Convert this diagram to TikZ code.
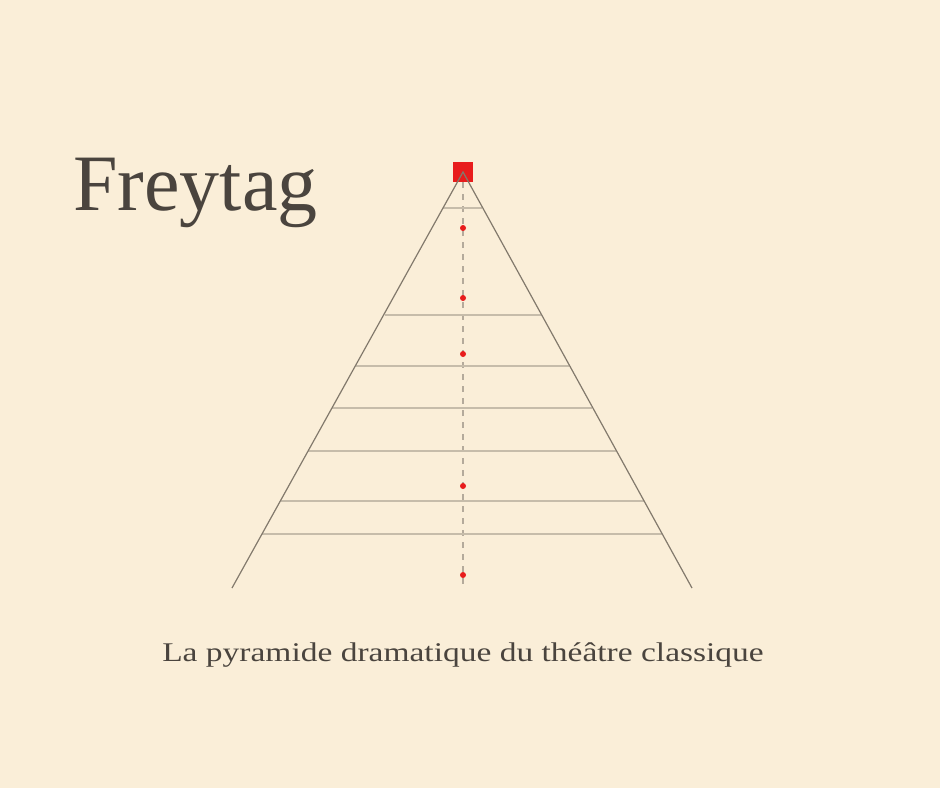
\documentclass[tikz,border=0pt]{standalone}
\usepackage{fontspec}
\setmainfont{Liberation Serif}
\definecolor{paper}{RGB}{250,238,216}
\definecolor{ink}{RGB}{74,68,62}
\definecolor{edgecol}{RGB}{130,121,108}
\definecolor{rulecol}{RGB}{198,188,170}
\definecolor{dashcol}{RGB}{180,170,155}
\definecolor{accent}{RGB}{232,28,28}
\tikzset{
  dotnode/.style={circle,fill=accent,inner sep=0pt,minimum size=6pt},
  topbox/.style={rectangle,fill=accent,inner sep=0pt,minimum size=20pt},
  edgeline/.style={draw=edgecol,line width=1.2pt},
  rungline/.style={draw=rulecol,line width=1.2pt},
  axisline/.style={draw=dashcol,line width=1.2pt,dash pattern=on 6pt off 6pt},
}
\begin{document}
\begin{tikzpicture}[x=1pt,y=-1pt]
\fill[paper] (0,0) rectangle (940,788);
\useasboundingbox (0,0) rectangle (940,788);
% axis
\coordinate (axisbot) at (463,590);
\node[topbox] (apexbox) at (463,172) {};
\draw[axisline] (apexbox.south) -- (axisbot);
% rungs
\foreach \y/\xl/\xr [count=\i] in {208/443/482, 315/385/541, 366/356/569, 408/332/592, 451/308/616, 501/281/644, 534/262/662}{
  \coordinate (rl\i) at (\xl,\y);
  \coordinate (rr\i) at (\xr,\y);
  \draw[rungline] (rl\i) -- (rr\i);
}
% triangle
\coordinate (apex) at (463,172);
\coordinate (baseL) at (232,588);
\coordinate (baseR) at (692,588);
\draw[edgeline] (baseL) -- (apex) -- (baseR);
% dots
\foreach \y [count=\i] in {228,298,354,486,575}{
  \node[dotnode] (dot\i) at (463,\y) {};
}
% texts
\node[anchor=base west,inner sep=0pt,text=ink,font=\fontsize{80}{80}\selectfont] (title) at (73,210) {Freytag};
\node[anchor=base,inner sep=0pt,text=ink] (subtitle) at (463,661) {\scalebox{1.24}[1]{\fontsize{27}{27}\selectfont La pyramide dramatique du théâtre classique}};
\end{tikzpicture}
\end{document}
